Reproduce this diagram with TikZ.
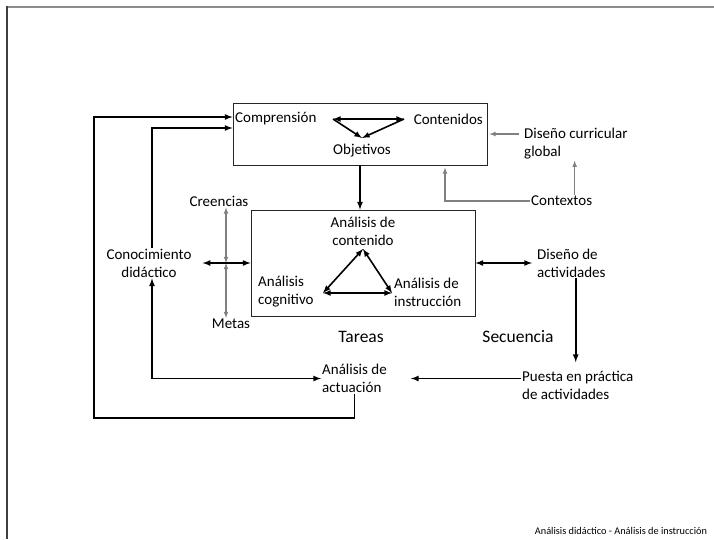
\documentclass[tikz,border=0pt]{standalone}
\usepackage{fontspec}
\setmainfont{Carlito}
\usetikzlibrary{arrows}
\tikzstyle{box} = [rectangle, draw=black!85, line width=0.9pt]
\tikzstyle{txt} = [inner sep=1pt, font=\fontsize{15}{18}\selectfont, align=left]
\tikzstyle{big} = [inner sep=1pt, font=\fontsize{17.5}{20}\selectfont]
\tikzstyle{arrow} = [line width=1.6pt,->,>=latex]
\tikzstyle{biarrow} = [line width=1.6pt,<->,>=latex]
\tikzstyle{grayarrow} = [gray, line width=1.1pt,->,>=latex]
\tikzstyle{graybi} = [gray, line width=1.1pt,<->,>=latex]

\begin{document}
\begin{tikzpicture}[x=1pt, y=-1pt]
    \useasboundingbox (0,0) rectangle (714,539);
    % slide frame
    \draw [gray!90, line width=2pt] (5.5,6.5) -- (714,6.5);
    \draw [black!75, line width=2pt] (6.5,5.5) -- (6.5,539);

    % top box
    \node (top) [box, minimum width=254pt, minimum height=62pt] at (360,134) {};
    \node (comp) [txt, anchor=west] at (234,119) {Comprensión};
    \node (cont) [txt, anchor=east] at (484,119) {Contenidos};
    \node (obj) [txt] at (362,151) {Objetivos};
    \coordinate (t1) at (333,119);
    \coordinate (t2) at (404,119);
    \coordinate (t3) at (362,138);
    \draw [biarrow] (t1) -- (t2);
    \draw [arrow] (t1) -- (t3);
    \draw [arrow] (t2) -- (t3);

    % middle box
    \node (mid) [box, minimum width=224pt, minimum height=106pt] at (363,263) {};
    \node (acon) [txt, align=center] at (363,231) {Análisis de\\contenido};
    \node (acog) [txt, anchor=west] at (257,292) {Análisis\\cognitivo};
    \node (ains) [txt, anchor=west] at (393,292) {Análisis de\\instrucción};
    \coordinate (m1) at (363,249);
    \coordinate (m2) at (323,293);
    \coordinate (m3) at (392,293);
    \draw [biarrow] (m1) -- (m2);
    \draw [biarrow] (m2) -- (m3);
    \draw [biarrow] (m3) -- (m1);

    % side texts
    \node (cre) [txt] at (219,201) {Creencias};
    \node (met) [txt] at (231,324) {Metas};
    \node (con) [txt, align=center] at (149,263) {Conocimiento\\didáctico};
    \node (dis) [txt, anchor=west] at (536,263) {Diseño de\\actividades};
    \node (dcg) [txt, anchor=west] at (523,144) {Diseño curricular\\global};
    \node (ctx) [txt, anchor=west] at (530,201) {Contextos};
    \node (tar) [big] at (361,337) {Tareas};
    \node (sec) [big] at (518,337) {Secuencia};
    \node (pue) [txt, anchor=west] at (521,385.5) {Puesta en práctica\\de actividades};
    \node (act) [txt, anchor=west] at (321,378.5) {Análisis de\\actuación};
    \coordinate (cross) at (226,263);
    \coordinate (loop) at (94,418);

    % connectors
    \draw [arrow] (top.south) -- (top.south |- mid.north);
    \draw [grayarrow, shorten <=4pt, shorten >=2pt] (dcg.west |- top.east) -- (top.east);
    \draw [grayarrow, shorten >=2pt] (ctx.west) -| ([xshift=85pt]top.south);
    \draw [grayarrow] ([xshift=13pt]ctx.north) -- ([xshift=13pt]ctx.north |- dcg.south);
    \draw [graybi] (cross |- cre.south) -- (cross);
    \draw [graybi] (cross) -- (cross |- met.north);
    \draw [biarrow] ([xshift=10pt]con.east) -- (mid.west);
    \draw [biarrow, shorten >=4pt] (mid.east) -- (mid.east -| dis.west);
    \draw [arrow, shorten >=8pt] ([xshift=-2pt]pue.north |- dis.south) -- ([xshift=-2pt]pue.north);
    \draw [arrow] (pue.west |- act.east) -- ([xshift=23pt]act.east);
    \draw [biarrow] ([xshift=3pt]con.south) |- (act.west);
    \draw [arrow] ([xshift=3pt]con.north) |- ([yshift=6pt]top.west);
    \draw [arrow] (act.south) |- (loop) |- ([yshift=17pt]top.west);

    % footer
    \node (foot) [inner sep=0pt, font=\fontsize{10.3}{12}\selectfont] at (621,531) {Análisis didáctico - Análisis de instrucción};
\end{tikzpicture}
\end{document}
